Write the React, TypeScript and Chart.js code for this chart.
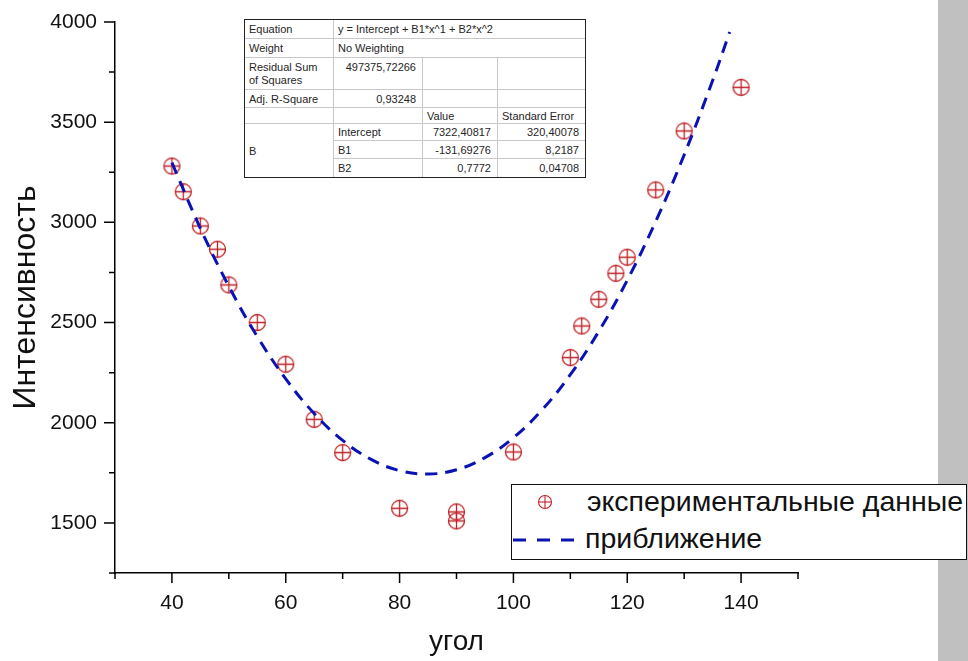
import React, { useEffect, useRef } from "react";
import { Chart, registerables } from "chart.js";

Chart.register(...registerables);

// experimental points (угол, интенсивность)
const pointX = [40, 42, 45, 48, 50, 55, 60, 65, 70, 80, 90, 90, 100, 110, 112, 115, 118, 120, 125, 130, 140];
const pointY = [3281, 3153, 2982, 2866, 2688, 2500, 2292, 2017, 1851, 1573, 1555, 1510, 1854, 2325, 2483, 2616, 2746, 2826, 3162, 3456, 3674];

// fitted curve
const fitX = [40, 45, 50, 55, 60, 65, 70, 75, 80, 85, 90, 95, 100, 105, 110, 115, 120, 125, 130, 135, 138];
const fitY = [3298, 2970, 2681, 2430, 2219, 2046, 1912, 1817, 1761, 1744, 1765, 1826, 1925, 2063, 2240, 2456, 2711, 3005, 3337, 3708, 3950];

const xTickLabels = [40, 60, 80, 100, 120, 140];
const yTickLabels = [1500, 2000, 2500, 3000, 3500, 4000];

const seriesNames = ["экспериментальные данные", "приближение"];

const tableCells = [
  { r: [0, 1], c: [0, 1], t: "Equation", a: "left" },
  { r: [0, 1], c: [1, 4], t: "y = Intercept + B1*x^1 + B2*x^2", a: "left" },
  { r: [1, 2], c: [0, 1], t: "Weight", a: "left" },
  { r: [1, 2], c: [1, 4], t: "No Weighting", a: "left" },
  { r: [2, 3], c: [0, 1], t: "Residual Sum\nof Squares", a: "left", top: true },
  { r: [2, 3], c: [1, 2], t: "497375,72266", a: "right", top: true },
  { r: [2, 3], c: [2, 3], t: "", a: "left" },
  { r: [2, 3], c: [3, 4], t: "", a: "left" },
  { r: [3, 4], c: [0, 1], t: "Adj. R-Square", a: "left" },
  { r: [3, 4], c: [1, 2], t: "0,93248", a: "right" },
  { r: [3, 4], c: [2, 3], t: "", a: "left" },
  { r: [3, 4], c: [3, 4], t: "", a: "left" },
  { r: [4, 5], c: [0, 1], t: "", a: "left" },
  { r: [4, 5], c: [1, 2], t: "", a: "left" },
  { r: [4, 5], c: [2, 3], t: "Value", a: "left" },
  { r: [4, 5], c: [3, 4], t: "Standard Error", a: "left" },
  { r: [5, 8], c: [0, 1], t: "B", a: "left" },
  { r: [5, 6], c: [1, 2], t: "Intercept", a: "left" },
  { r: [5, 6], c: [2, 3], t: "7322,40817", a: "right" },
  { r: [5, 6], c: [3, 4], t: "320,40078", a: "right" },
  { r: [6, 7], c: [1, 2], t: "B1", a: "left" },
  { r: [6, 7], c: [2, 3], t: "-131,69276", a: "right" },
  { r: [6, 7], c: [3, 4], t: "8,2187", a: "right" },
  { r: [7, 8], c: [1, 2], t: "B2", a: "left" },
  { r: [7, 8], c: [2, 3], t: "0,7772", a: "right" },
  { r: [7, 8], c: [3, 4], t: "0,04708", a: "right" },
];

const colEdges = [0, 89, 178, 253, 340];
const rowEdges = [0, 19, 38, 70, 88, 104, 121, 139, 157];

const RED = "#bf2328";
const BLUE = "#0a12b4";
const FONT = "'Liberation Sans', Arial, sans-serif";

function makeMarker(r: number) {
  const s = Math.ceil(r * 2 + 3);
  const c = document.createElement("canvas");
  c.width = s;
  c.height = s;
  const g = c.getContext("2d")!;
  const m = s / 2;
  g.strokeStyle = RED;
  g.lineWidth = 1.3;
  g.beginPath();
  g.arc(m, m, r, 0, Math.PI * 2);
  g.stroke();
  g.beginPath();
  g.moveTo(m - r, m);
  g.lineTo(m + r, m);
  g.moveTo(m, m - r);
  g.lineTo(m, m + r);
  g.stroke();
  return c;
}

const tickPlugin = {
  id: "customTicks",
  afterDraw(chart: any) {
    const { ctx, scales } = chart;
    const xs = scales.x;
    const ys = scales.y;
    ctx.save();
    ctx.strokeStyle = "#000";
    ctx.lineWidth = 1.5;
    ctx.beginPath();
    const yb = chart.chartArea.bottom;
    xs.ticks.forEach((t: any) => {
      const major = xTickLabels.includes(t.value);
      const px = xs.getPixelForValue(t.value);
      ctx.moveTo(px, yb);
      ctx.lineTo(px, yb + (major ? 10 : 6));
    });
    const xl = chart.chartArea.left;
    ys.ticks.forEach((t: any) => {
      const major = yTickLabels.includes(t.value);
      const py = ys.getPixelForValue(t.value);
      ctx.moveTo(xl, py);
      ctx.lineTo(xl - (major ? 11 : 6), py);
    });
    ctx.stroke();
    ctx.restore();
  },
};

export default function App() {
  const ref = useRef<HTMLCanvasElement>(null);

  useEffect(() => {
    if (!ref.current) return;
    const marker = makeMarker(8);
    const chart = new Chart(ref.current, {
      type: "scatter",
      data: {
        datasets: [
          {
            label: seriesNames[1],
            data: fitX.map((x, i) => ({ x, y: fitY[i] })),
            showLine: true,
            borderColor: BLUE,
            borderWidth: 3,
            borderDash: [12, 8],
            pointRadius: 0,
            tension: 0.4,
            fill: false,
          },
          {
            label: seriesNames[0],
            data: pointX.map((x, i) => ({ x, y: pointY[i] })),
            pointStyle: marker as any,
            pointRadius: 8,
            showLine: false,
          },
        ],
      },
      options: {
        animation: false,
        responsive: false,
        devicePixelRatio: 1,
        layout: { padding: { left: 0, top: 22, right: 170, bottom: 0 } },
        plugins: { legend: { display: false }, tooltip: { enabled: false } },
        scales: {
          x: {
            type: "linear",
            min: 30,
            max: 150,
            afterFit: (s: any) => {
              s.height = 88;
              s.paddingLeft = 0;
              s.paddingRight = 0;
            },
            grid: { display: false, drawTicks: false },
            border: { display: true, color: "#000", width: 1.5 },
            ticks: {
              stepSize: 10,
              autoSkip: false,
              maxRotation: 0,
              padding: 18,
              color: "#111",
              font: { family: FONT, size: 21 },
              callback: (v: any) => (xTickLabels.includes(v) ? String(v) : ""),
            },
            title: {
              display: true,
              text: "угол",
              color: "#111",
              font: { family: FONT, size: 28 },
              padding: { top: 0, bottom: 2 },
            },
          },
          y: {
            type: "linear",
            min: 1250,
            max: 4000,
            afterFit: (s: any) => {
              s.width = 115;
              s.paddingTop = 0;
              s.paddingBottom = 0;
            },
            grid: { display: false, drawTicks: false },
            border: { display: true, color: "#000", width: 1.5 },
            ticks: {
              stepSize: 250,
              autoSkip: false,
              padding: 18,
              color: "#111",
              font: { family: FONT, size: 21 },
              callback: (v: any) => (yTickLabels.includes(v) ? String(v) : ""),
            },
            title: {
              display: true,
              text: "Интенсивность",
              color: "#111",
              font: { family: FONT, size: 32 },
              padding: { top: 7, bottom: 0 },
            },
          },
        },
      },
      plugins: [tickPlugin],
    });
    return () => chart.destroy();
  }, []);

  return (
    <div style={{ position: "fixed", left: 0, top: 0, width: 968, height: 661, background: "#fff", overflow: "hidden" }}>
      <canvas ref={ref} width={968} height={661} style={{ position: "absolute", left: 0, top: 0, width: 968, height: 661 }} />
      <div style={{ position: "absolute", left: 938, top: 0, width: 30, height: 661, background: "#c0c0c0" }} />
      <div
        style={{
          position: "absolute",
          left: 244,
          top: 19,
          width: 340,
          height: 157,
          border: "1px solid #222",
          background: "#fff",
          fontFamily: FONT,
          fontSize: 11,
          color: "#262626",
        }}
      >
        {tableCells.map((cell, i) => {
          const lastC = cell.c[1] === colEdges.length - 1;
          const lastR = cell.r[1] === rowEdges.length - 1;
          return (
            <div
              key={i}
              style={{
                position: "absolute",
                boxSizing: "border-box",
                left: colEdges[cell.c[0]],
                top: rowEdges[cell.r[0]],
                width: colEdges[cell.c[1]] - colEdges[cell.c[0]],
                height: rowEdges[cell.r[1]] - rowEdges[cell.r[0]],
                borderRight: lastC ? "none" : "1px solid #c8c8c8",
                borderBottom: lastR ? "none" : "1px solid #c8c8c8",
                display: "flex",
                alignItems: cell.top ? "flex-start" : "center",
                justifyContent: cell.a === "right" ? "flex-end" : "flex-start",
                textAlign: cell.a as any,
                padding: cell.top ? "3px 6px 0 4px" : "1px 6px 0 4px",
                whiteSpace: "pre",
                lineHeight: "13px",
              }}
            >
              {cell.t}
            </div>
          );
        })}
      </div>
      <svg width={968} height={661} style={{ position: "absolute", left: 0, top: 0, pointerEvents: "none" }}>
        <rect x={511.5} y={484.5} width={455} height={75} fill="#fff" stroke="#111" strokeWidth={1} />
        <circle cx={545} cy={502} r={6.5} fill="none" stroke={RED} strokeWidth={1.1} />
        <line x1={538.5} y1={502} x2={551.5} y2={502} stroke={RED} strokeWidth={1.1} />
        <line x1={545} y1={495.5} x2={545} y2={508.5} stroke={RED} strokeWidth={1.1} />
        <text x={587} y={511} fontFamily={FONT} fontSize={28.5} fill="#111">
          {seriesNames[0]}
        </text>
        <line x1={513} y1={540} x2={577} y2={540} stroke={BLUE} strokeWidth={3} strokeDasharray="13 11" />
        <text x={585} y={548} fontFamily={FONT} fontSize={28.5} fill="#111">
          {seriesNames[1]}
        </text>
      </svg>
    </div>
  );
}
